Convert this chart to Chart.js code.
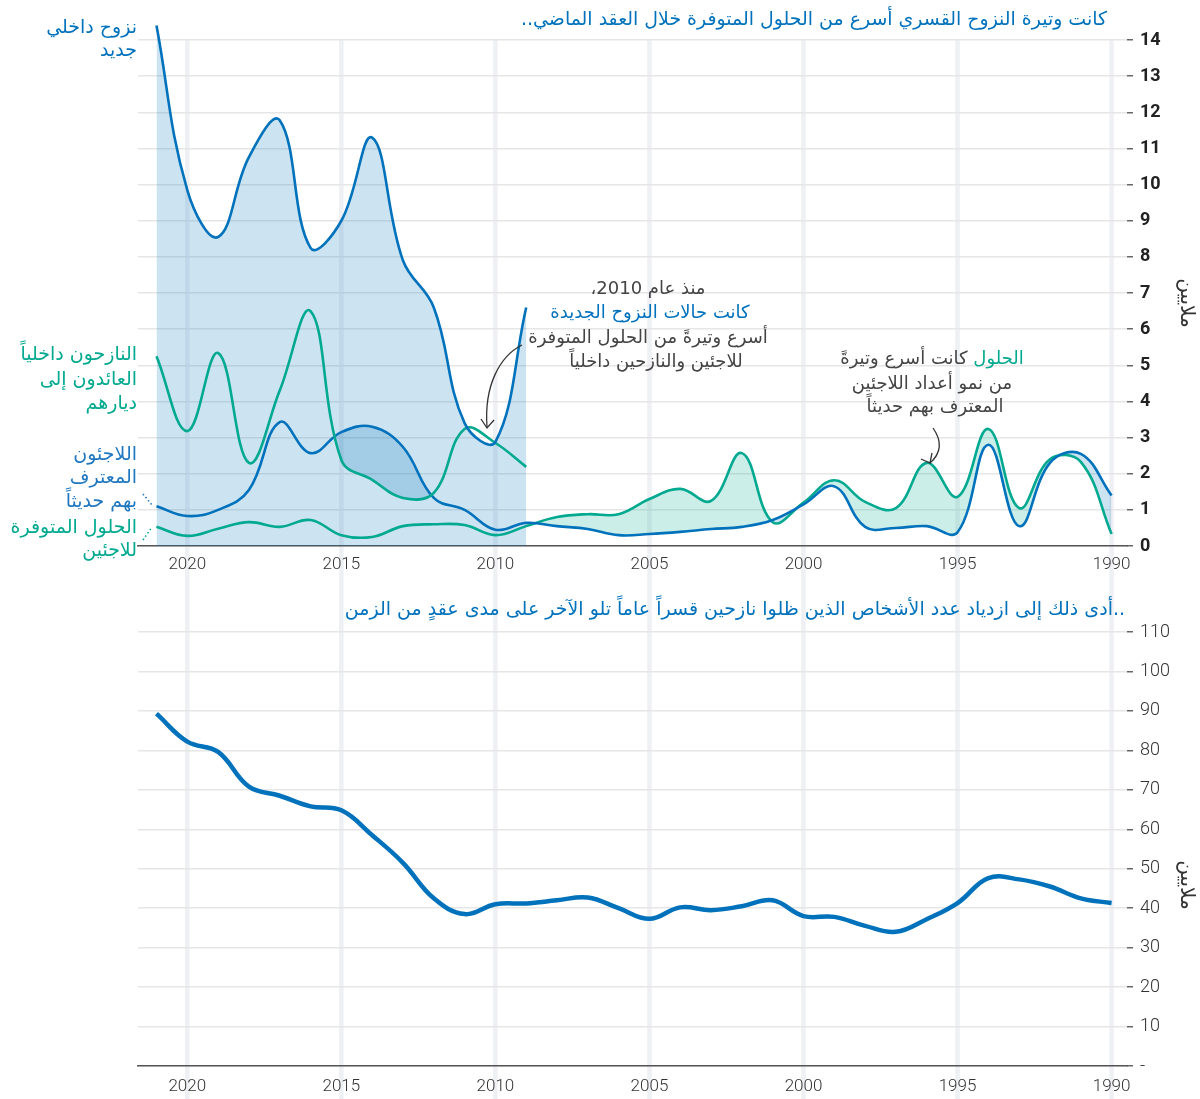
<!DOCTYPE html>
<html lang="ar">
<head>
<meta charset="utf-8">
<script src="https://cdn.jsdelivr.net/npm/chart.js@4.4.1/dist/chart.umd.min.js"></script>
<style>
  html, body { margin: 0; padding: 0; background: #fff; }
  #wrap { position: relative; width: 1200px; height: 1099px; }
  #topChart { position: absolute; left: 0; top: 0; }
  #bottomChart { position: absolute; left: 0; top: 580px; }
</style>
</head>
<body>
<div id="wrap">
  <canvas id="topChart" width="1200" height="580"></canvas>
  <canvas id="bottomChart" width="1200" height="519"></canvas>
</div>
<script>
// years shown on both panels (axis runs right to left, 1990 on the right)
const years = [1990, 1991, 1992, 1993, 1994, 1995, 1996, 1997, 1998, 1999,
  2000, 2001, 2002, 2003, 2004, 2005, 2006, 2007, 2008, 2009,
  2010, 2011, 2012, 2013, 2014, 2015, 2016, 2017, 2018, 2019, 2020, 2021];
const yearTicks = [1990, 1995, 2000, 2005, 2010, 2015, 2020];

// top panel, millions
const refugeesNew = [1.4, 2.55, 2.3, 0.55, 2.8, 0.38, 0.55, 0.5, 0.53, 1.65,
  1.15, 0.72, 0.53, 0.47, 0.39, 0.33, 0.3, 0.47, 0.55, 0.64,
  0.45, 1.0, 1.33, 2.74, 3.3, 3.15, 2.57, 3.43, 1.55, 1.0, 0.83, 1.1];
const refugeeSolutions = [0.33, 2.33, 2.4, 1.05, 3.24, 1.36, 2.3, 1.05, 1.22, 1.82,
  1.2, 0.66, 2.57, 1.25, 1.58, 1.3, 0.88, 0.88, 0.8, 0.55,
  0.3, 0.58, 0.6, 0.55, 0.25, 0.3, 0.72, 0.53, 0.66, 0.48, 0.28, 0.53];
const idpYears = [2009, 2010, 2011, 2012, 2013, 2014, 2015, 2016, 2017, 2018, 2019, 2020, 2021];
const idpNew = [6.6, 2.88, 3.4, 6.6, 7.9, 11.3, 9.0, 8.25, 11.78, 10.76, 8.55, 9.85, 14.4];
const idpReturns = [2.19, 2.85, 3.24, 1.47, 1.33, 1.83, 2.38, 6.5, 4.3, 2.3, 5.34, 3.18, 5.25];
const topYTicks = [0, 1, 2, 3, 4, 5, 6, 7, 8, 9, 10, 11, 12, 13, 14];

// bottom panel, millions
const totalDisplaced = [41.3, 42.5, 45.5, 47.3, 47.6, 41.3, 37.2, 34.0, 35.5, 37.8,
  38.0, 42.0, 40.5, 39.5, 40.2, 37.3, 40.0, 42.7, 42.0, 41.2,
  41.0, 38.5, 42.5, 51.5, 58.5, 64.8, 65.8, 68.5, 70.8, 79.6, 82.2, 89.3];
const bottomYTicks = [0, 10, 20, 30, 40, 50, 60, 70, 80, 90, 100, 110];

const blue = '#0072BC';
const green = '#00A98F';
const blueFill = 'rgba(0,114,188,0.2)';
const greenFill = 'rgba(0,169,143,0.2)';
const arFont = '"DejaVu Sans"';

function pts(xs, ys) {
  return xs.map((x, i) => ({ x: x, y: ys[i] }));
}

function txt(ctx, s, x, y, color, size, align, maxW) {
  ctx.save();
  ctx.direction = 'rtl';
  ctx.font = size + 'px ' + arFont;
  ctx.fillStyle = color;
  ctx.textAlign = align;
  ctx.textBaseline = 'middle';
  if (maxW) ctx.fillText(s, x, y, maxW); else ctx.fillText(s, x, y);
  ctx.restore();
}

function vertText(ctx, s, x, y) {
  ctx.save();
  ctx.translate(x, y);
  ctx.rotate(Math.PI / 2);
  ctx.direction = 'rtl';
  ctx.font = '20px ' + arFont;
  ctx.fillStyle = '#333';
  ctx.textAlign = 'center';
  ctx.textBaseline = 'middle';
  ctx.fillText(s, 0, 0);
  ctx.restore();
}

// thick pale year lines that run the full height of the panel
function yearLines(top) {
  return {
    id: 'yearLines',
    beforeDraw(chart) {
      const ctx = chart.ctx;
      ctx.save();
      ctx.fillStyle = '#fff';
      ctx.fillRect(0, 0, chart.width, chart.height);
      ctx.strokeStyle = '#eff0f3';
      ctx.lineWidth = 4.5;
      yearTicks.forEach(y => {
        const x = chart.scales.x.getPixelForValue(y);
        ctx.beginPath();
        ctx.moveTo(x, top);
        ctx.lineTo(x, chart.height);
        ctx.stroke();
      });
      ctx.restore();
    }
  };
}

function xAxis(h, pad) {
  return {
    type: 'linear',
    reverse: true,
    min: 1989.5,
    max: 2021.6,
    afterBuildTicks: s => { s.ticks = yearTicks.map(v => ({ value: v })); },
    afterFit: s => { s.height = h; },
    grid: { display: false },
    border: { display: true, color: '#555', width: 1.5 },
    ticks: {
      padding: pad,
      color: '#333',
      maxRotation: 0,
      font: { family: 'Roboto', size: 17, weight: '300' },
      callback: v => String(v)
    }
  };
}

const topLabels = {
  id: 'topLabels',
  afterDraw(chart) {
    const ctx = chart.ctx;
    const grey = '#444';
    txt(ctx, 'كانت وتيرة النزوح القسري أسرع من الحلول المتوفرة خلال العقد الماضي..', 1107, 20, blue, 19, 'right', 586);

    txt(ctx, 'نزوح داخلي', 137, 28, blue, 19, 'right');
    txt(ctx, 'جديد', 137, 51, blue, 19, 'right');
    txt(ctx, 'النازحون داخلياً', 137, 355, green, 19, 'right');
    txt(ctx, 'العائدون إلى', 137, 380, green, 19, 'right');
    txt(ctx, 'ديارهم', 137, 404, green, 19, 'right');
    txt(ctx, 'اللاجئون', 137, 455, '#1f77c0', 19, 'right');
    txt(ctx, 'المعترف', 137, 478, '#1f77c0', 19, 'right');
    txt(ctx, 'بهم حديثاً', 137, 502, '#1f77c0', 19, 'right');
    txt(ctx, 'الحلول المتوفرة', 137, 528, green, 19, 'right');
    txt(ctx, 'للاجئين', 137, 551, green, 19, 'right');

    // dotted leaders from the two refugee labels
    ctx.save();
    ctx.setLineDash([1.5, 2.5]);
    ctx.lineWidth = 1.5;
    ctx.strokeStyle = '#1f77c0';
    ctx.beginPath(); ctx.moveTo(143, 494); ctx.lineTo(152, 505); ctx.stroke();
    ctx.strokeStyle = green;
    ctx.beginPath(); ctx.moveTo(143, 540); ctx.lineTo(152, 527); ctx.stroke();
    ctx.restore();

    // note on new displacement since 2010
    txt(ctx, 'منذ عام 2010،', 648, 289, grey, 18, 'center');
    txt(ctx, 'كانت حالات النزوح الجديدة', 650, 313, blue, 18, 'center');
    txt(ctx, 'أسرع وتيرةً من الحلول المتوفرة', 648, 338, grey, 18, 'center');
    txt(ctx, 'للاجئين والنازحين داخلياً', 656, 362, grey, 18, 'center');

    // note on solutions in the 1990s
    ctx.save();
    ctx.font = '18px ' + arFont;
    ctx.direction = 'rtl';
    const w1 = ctx.measureText('الحلول').width;
    const wAll = ctx.measureText('الحلول كانت أسرع وتيرةً').width;
    ctx.restore();
    const r = 932 + wAll / 2;
    txt(ctx, 'الحلول', r, 359, green, 18, 'right');
    txt(ctx, ' كانت أسرع وتيرةً', r - w1, 359, grey, 18, 'right');
    txt(ctx, 'من نمو أعداد اللاجئين', 932, 384, grey, 18, 'center');
    txt(ctx, 'المعترف بهم حديثاً', 935, 407, grey, 18, 'center');

    // arrows
    ctx.save();
    ctx.strokeStyle = '#333';
    ctx.lineWidth = 1.3;
    ctx.beginPath();
    ctx.moveTo(522, 345);
    ctx.bezierCurveTo(500, 356, 484, 385, 487, 427);
    ctx.stroke();
    ctx.beginPath();
    ctx.moveTo(481, 419); ctx.lineTo(487, 428); ctx.lineTo(494, 420);
    ctx.stroke();
    ctx.beginPath();
    ctx.moveTo(933, 428);
    ctx.quadraticCurveTo(947, 448, 930, 463);
    ctx.stroke();
    ctx.beginPath();
    ctx.moveTo(921, 459); ctx.lineTo(930, 463); ctx.lineTo(932, 453);
    ctx.stroke();
    ctx.restore();

    vertText(ctx, 'ملايين', 1186, 303);
  }
};

new Chart(document.getElementById('topChart'), {
  type: 'line',
  data: {
    datasets: [
      {
        label: 'نزوح داخلي جديد',
        data: pts(idpYears, idpNew),
        borderColor: blue, backgroundColor: blueFill, fill: 'origin',
        borderWidth: 2.6, pointRadius: 0, tension: 0.4
      },
      {
        label: 'النازحون داخلياً العائدون إلى ديارهم',
        data: pts(idpYears, idpReturns),
        borderColor: green, fill: { target: 2, above: 'rgba(0,0,0,0)', below: blueFill },
        borderWidth: 2.6, pointRadius: 0, tension: 0.4
      },
      {
        label: 'اللاجئون المعترف بهم حديثاً',
        data: pts(years, refugeesNew),
        borderColor: blue, fill: false,
        borderWidth: 2.6, pointRadius: 0, tension: 0.4
      },
      {
        label: 'الحلول المتوفرة للاجئين',
        data: pts(years, refugeeSolutions),
        borderColor: green, fill: false,
        borderWidth: 2.6, pointRadius: 0, tension: 0.4
      },
      {
        label: 'gap',
        data: pts(years, refugeeSolutions).filter(p => p.x <= 2009),
        borderColor: 'rgba(0,0,0,0)', borderWidth: 0,
        fill: { target: 2, above: greenFill, below: blueFill },
        pointRadius: 0, tension: 0.4
      }
    ]
  },
  options: {
    responsive: false,
    animation: false,
    layout: { padding: { left: 138, top: 22, right: 0, bottom: 0 } },
    plugins: {
      legend: { display: false },
      tooltip: { enabled: false },
      filler: { drawTime: 'beforeDatasetsDraw' }
    },
    scales: {
      x: xAxis(34, 1),
      y: {
        position: 'right',
        min: 0,
        max: 14.5,
        afterBuildTicks: s => { s.ticks = topYTicks.map(v => ({ value: v })); },
        afterFit: s => { s.width = 73; },
        grid: { color: '#e6e6e6', lineWidth: 1.5, drawTicks: true, tickLength: 6, tickColor: '#666' },
        border: { display: false },
        ticks: { padding: 7, color: '#222', font: { family: 'Roboto', size: 18, weight: 'bold' } }
      }
    }
  },
  plugins: [yearLines(40), topLabels]
});

const bottomLabels = {
  id: 'bottomLabels',
  afterDraw(chart) {
    const ctx = chart.ctx;
    txt(ctx, '..أدى ذلك إلى ازدياد عدد الأشخاص الذين ظلوا نازحين قسراً عاماً تلو الآخر على مدى عقدٍ من الزمن', 1125, 30, blue, 19, 'right', 782);
    vertText(ctx, 'ملايين', 1186, 305);
  }
};

new Chart(document.getElementById('bottomChart'), {
  type: 'line',
  data: {
    datasets: [{
      label: 'النازحون قسراً',
      data: pts(years, totalDisplaced),
      borderColor: blue, borderWidth: 4.5, pointRadius: 0, tension: 0.4, fill: false
    }]
  },
  options: {
    responsive: false,
    animation: false,
    layout: { padding: { left: 138, top: 52, right: 0, bottom: 0 } },
    plugins: { legend: { display: false }, tooltip: { enabled: false } },
    scales: {
      x: xAxis(33, 3),
      y: {
        position: 'right',
        min: 0,
        max: 110,
        afterBuildTicks: s => { s.ticks = bottomYTicks.map(v => ({ value: v })); },
        afterFit: s => { s.width = 73; },
        grid: { color: '#e6e6e6', lineWidth: 1.5, drawTicks: true, tickLength: 6, tickColor: '#666' },
        border: { display: false },
        ticks: {
          padding: 7, color: '#333',
          font: { family: 'Roboto', size: 18, weight: '300' },
          callback: v => (v === 0 ? '-' : String(v))
        }
      }
    }
  },
  plugins: [yearLines(0), bottomLabels]
});
</script>
</body>
</html>
